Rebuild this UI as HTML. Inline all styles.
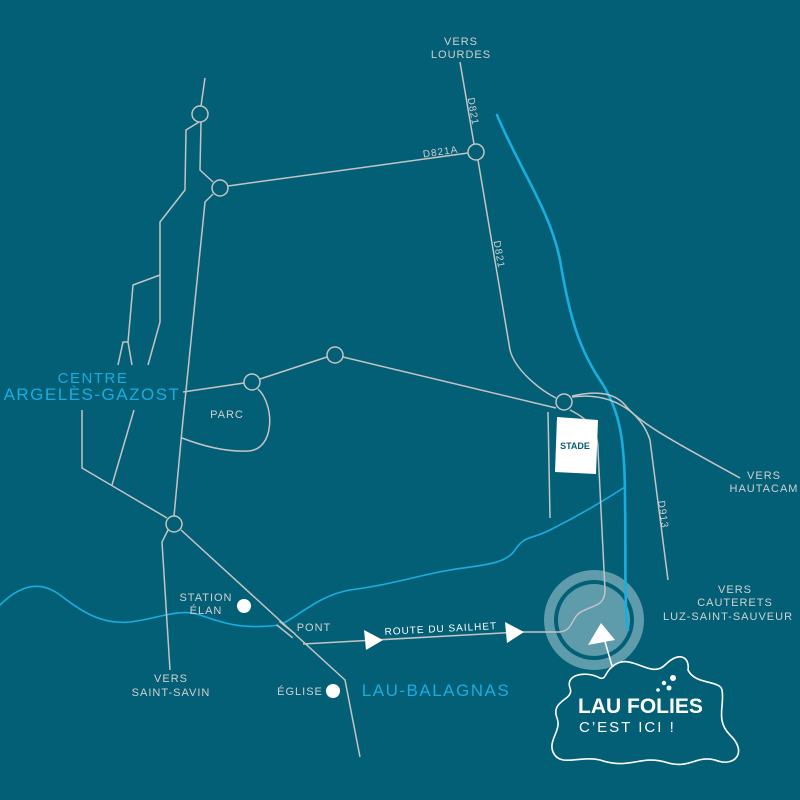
<!DOCTYPE html>
<html><head><meta charset="utf-8"><style>
html,body{margin:0;padding:0;background:#035f76;}
svg{display:block}
text{font-family:"Liberation Sans",sans-serif;}
</style></head><body>
<svg width="800" height="800" viewBox="0 0 800 800" xmlns="http://www.w3.org/2000/svg">
<rect width="800" height="800" fill="#035f76"/>
<!-- logo circle -->
<circle cx="594" cy="620" r="50" fill="#5e9cab"/>
<circle cx="594" cy="620" r="40" fill="#035f76"/>
<circle cx="594" cy="620" r="36" fill="#5e9cab"/>
<!-- rivers -->
<g fill="none" stroke="#1aaee0" stroke-linecap="round">
<path d="M0,605 C20,585 40,580 60,595 C80,610 100,625 130,622 C160,618 180,608 200,615 C220,622 240,630 280,625 C300,615 320,595 350,590 C390,585 420,575 450,570 C480,565 505,565 515,550 C525,535 530,540 550,530 C580,515 605,500 625,487" stroke-width="1.6"/>
<path d="M497,115 C520,170 550,210 560,260 C570,320 580,350 600,380 C620,410 625,440 625,500 C626,560 624,600 628,630" stroke-width="2.6"/>
</g>
<!-- roads -->
<g fill="none" stroke="#c4c4c4" stroke-width="1.5" stroke-linejoin="round">
<path d="M205,78 L201,106"/>
<path d="M199,122 L186,130 L185,190 L160,222 L160,322 L148,365"/>
<path d="M160,275 L133,285 L128,342 L123,342 L118,365 M128,342 L132,365"/>
<path d="M201,122 L200,170 L213,182"/>
<path d="M228,186 L468,153"/>
<path d="M213,194 L205,202 L182,430 L174,516"/>
<path d="M474,144 L460,62"/>
<path d="M478,160 L510,350 C515,370 540,390 556,398"/>
<path d="M183,392 L244,383 M260,379 L327,357 M343,357 L556,408"/>
<path d="M258,389 C275,405 275,450 248,451 C225,452 200,445 182,438"/>
<path d="M82,410 L82,468 L167,518"/>
<path d="M134,410 L112,485"/>
<path d="M168,530 L162,542 L170,670"/>
<path d="M181,530 L345,680 L360,757"/>
<path d="M572,396 C590,392 612,390 625,405 C640,425 690,450 740,478"/>
<path d="M572,397 C610,392 640,410 650,440 L668,580"/>
<path d="M570,410 C590,420 598,430 598,450 L605,590 C605,605 595,605 585,610 C570,615 575,630 560,632 L520,632"/>
<path d="M548,412 L550,518"/>
<path d="M303,644 L520,632"/>
<path d="M278,623 L294,636" stroke-width="6" stroke="#c4c4c4"/>
<path d="M278,623 L294,636" stroke-width="3" stroke="#035f76"/>
</g>
<g fill="none" stroke="#c4c4c4" stroke-width="1.5">
<circle cx="200" cy="114" r="8"/><circle cx="220" cy="188" r="8"/>
<circle cx="476" cy="152" r="8"/><circle cx="335" cy="355" r="8"/>
<circle cx="252" cy="382" r="8"/><circle cx="564" cy="402" r="8"/>
<circle cx="174" cy="524" r="8"/>
</g>
<!-- arrows -->
<polygon points="364,630 383,640 366,650" fill="#fff"/>
<polygon points="505,622 524,632 507,643" fill="#fff"/>
<polygon points="588,645 601,623 615,640" fill="#fff"/>
<line x1="604" y1="638" x2="612" y2="666" stroke="#fff" stroke-width="1.5"/>
<!-- stade -->
<polygon points="557,417 598,420 596,474 555,472" fill="#fff"/>
<text x="575" y="449" font-size="9" fill="#035f76" text-anchor="middle" font-weight="bold">STADE</text>
<circle cx="244" cy="606" r="7" fill="#fff"/>
<circle cx="333" cy="691" r="7" fill="#fff"/>
<!-- blob -->
<path d="M612,667 C630,650 650,680 665,665 C680,650 690,658 688,670 C695,685 720,680 722,690 C725,705 715,720 730,735 C748,752 735,768 715,760 C695,755 690,770 665,762 C640,755 630,770 600,760 C580,755 560,768 553,752 C548,740 562,730 557,718 C550,700 575,700 570,688 C565,675 585,670 600,678 C606,680 605,672 612,667 Z" fill="none" stroke="#fff" stroke-width="1.6"/>
<circle cx="673" cy="678" r="3" fill="#fff"/><circle cx="664" cy="683" r="2.2" fill="#fff"/><circle cx="669" cy="688" r="2.5" fill="#fff"/><circle cx="658" cy="690" r="1.8" fill="#fff"/>
<text x="578" y="713" font-size="21" fill="#fff" font-weight="bold">LAU FOLIES</text>
<text x="579" y="732" font-size="15" fill="#fff" letter-spacing="2" font-family="Liberation Mono">C’EST ICI !</text>
<!-- labels -->
<g fill="#d0d0d0" font-size="11" text-anchor="middle" letter-spacing="1">
<text x="461" y="45">VERS</text><text x="461" y="58">LOURDES</text>
<text x="764" y="479">VERS</text><text x="764" y="492">HAUTACAM</text>
<text x="735" y="593">VERS</text><text x="735" y="606">CAUTERETS</text><text x="728" y="620">LUZ-SAINT-SAUVEUR</text>
<text x="171" y="682">VERS</text><text x="171" y="696">SAINT-SAVIN</text>
<text x="227" y="418">PARC</text>
<text x="206" y="601">STATION</text><text x="206" y="614">ÉLAN</text>
<text x="300" y="695">ÉGLISE</text>
<text x="314" y="631">PONT</text>
<text x="441" y="632" transform="rotate(-3 441 632)" font-size="10" fill="#fff">ROUTE DU SAILHET</text>
<text x="441" y="155" transform="rotate(-8 441 155)" font-size="10">D821A</text>
<text x="470" y="112" transform="rotate(80 470 112)" font-size="10">D821</text>
<text x="496" y="255" transform="rotate(80 496 255)" font-size="10">D821</text>
<text x="660" y="515" transform="rotate(82 660 515)" font-size="10">D913</text>
</g>
<g fill="#1aaee0" text-anchor="middle" letter-spacing="1.5">
<text x="93" y="383" font-size="15">CENTRE</text>
<text x="92" y="400" font-size="17">ARGELÈS-GAZOST</text>
<text x="436" y="696" font-size="17">LAU-BALAGNAS</text>
</g>
</svg>
</body></html>
